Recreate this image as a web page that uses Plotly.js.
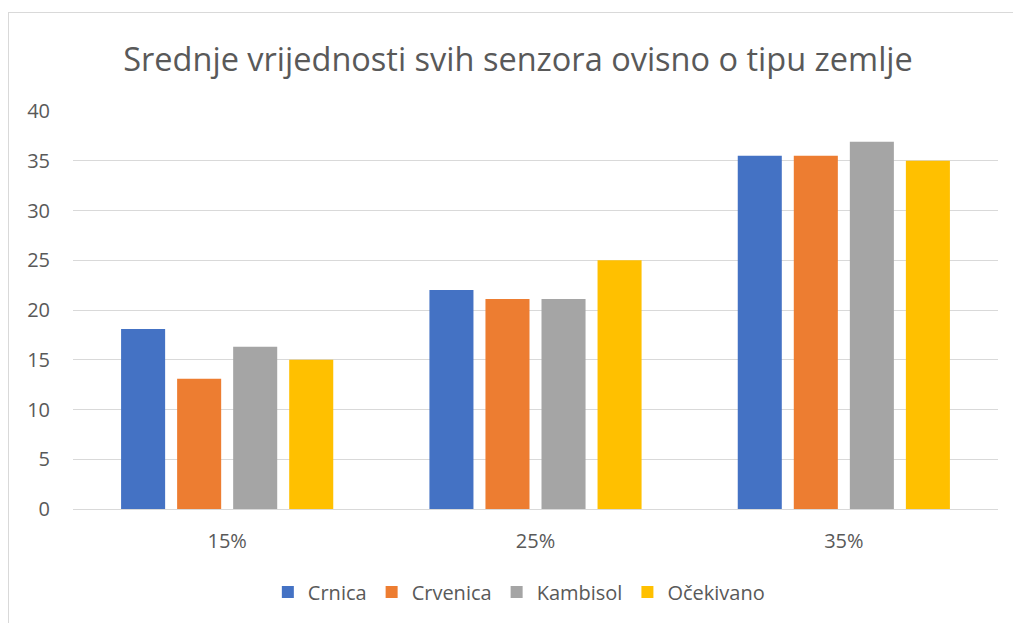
<!DOCTYPE html>
<html>
<head>
<meta charset="utf-8">
<script src="https://cdn.plot.ly/plotly-3.0.1.min.js"></script>
<style>
html,body{margin:0;padding:0;background:#fff;overflow:hidden;}
#chart{width:1013px;height:623px;position:absolute;left:0;top:0;}
#frame{position:absolute;left:8px;top:12px;width:1100px;height:700px;border:1px solid #d9d9d9;pointer-events:none;box-sizing:border-box;}
</style>
</head>
<body>
<div id="chart"></div>
<div id="frame"></div>
<script>
const categories = ["15%", "25%", "35%"];
const seriesNames = ["Crnica", "Crvenica", "Kambisol", "Očekivano"];
const crnica = [18.1, 22.0, 35.5];
const crvenica = [13.1, 21.1, 35.5];
const kambisol = [16.3, 21.1, 36.9];
const ocekivano = [15, 25, 35];
const yTicks = [0, 5, 10, 15, 20, 25, 30, 35, 40];
const colors = ["#4472C4", "#ED7D31", "#A5A5A5", "#FFC000"];

const values = [crnica, crvenica, kambisol, ocekivano];
const traces = values.map((v, i) => ({
  type: "bar",
  name: seriesNames[i],
  x: categories,
  y: v,
  marker: {color: colors[i]},
  hoverinfo: "x+y+name"
}));

const font = "'Open Sans', 'Noto Sans', 'DejaVu Sans', sans-serif";
const layout = {
  width: 1013,
  height: 623,
  margin: {l: 73, r: 15, t: 111, b: 114, pad: 0},
  paper_bgcolor: "rgba(0,0,0,0)",
  plot_bgcolor: "#fff",
  barmode: "group",
  bargap: 0.273,
  bargroupgap: 0.214,
  font: {family: font, color: "#595959", size: 20},
  title: {
    text: "Srednje vrijednosti svih senzora ovisno o tipu zemlje",
    font: {family: font, size: 32.5, color: "#595959"},
    x: 0.5114, xref: "container", xanchor: "center",
    y: 0.905, yref: "container", yanchor: "middle"
  },
  xaxis: {
    type: "category",
    showgrid: false,
    showline: true,
    linecolor: "#d9d9d9",
    linewidth: 1,
    ticks: "",
    ticklabelstandoff: 14,
    tickfont: {family: font, size: 20, color: "#595959"},
    fixedrange: true
  },
  yaxis: {
    range: [0, 40],
    tickvals: yTicks,
    ticktext: yTicks.map(String),
    showgrid: true,
    gridcolor: "#d9d9d9",
    gridwidth: 1,
    zeroline: false,
    showline: false,
    ticks: "",
    ticklabelstandoff: 22,
    tickfont: {family: font, size: 20, color: "#595959"},
    fixedrange: true
  },
  showlegend: true,
  legend: {
    orientation: "h",
    x: 0.482, xanchor: "center",
    y: -0.2085, yanchor: "middle",
    font: {family: font, size: 20, color: "#595959"},
    itemwidth: 30,
    traceorder: "normal"
  }
};

Plotly.newPlot("chart", traces, layout, {displayModeBar: false, staticPlot: true});
</script>
</body>
</html>
